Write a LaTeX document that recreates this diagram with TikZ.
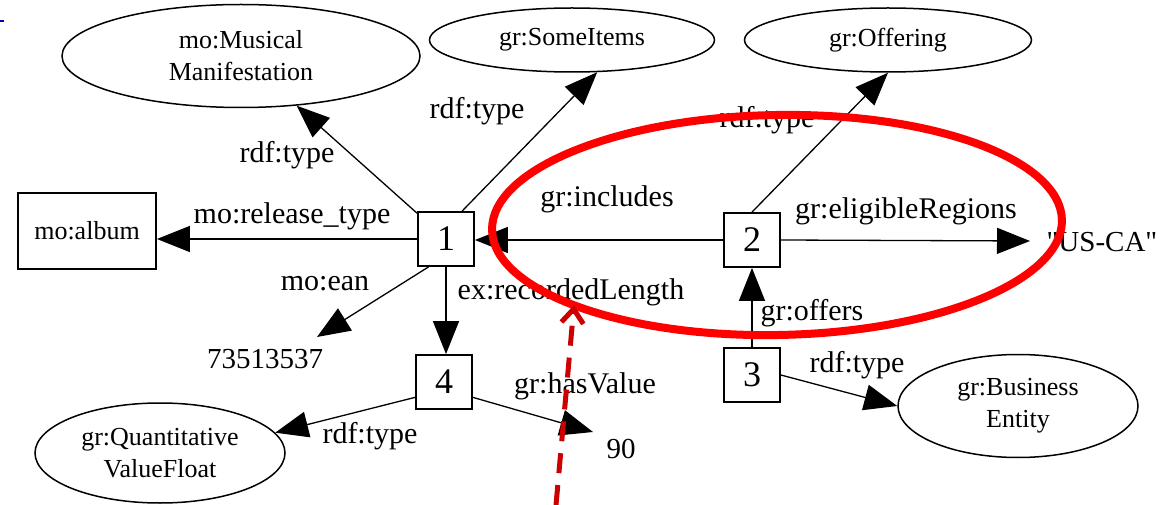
\documentclass[tikz,border=0pt]{standalone}
\usepackage{fontspec}
\setmainfont{Liberation Serif}
\newfontfamily\rawserif{Liberation Serif}[Ligatures=TeXOff]
\usetikzlibrary{shapes.geometric,arrows.meta,calc}
\tikzset{
  lbl/.style={font=\fontsize{30}{32}\selectfont, inner sep=0pt, anchor=base},
  lit/.style={font=\fontsize{29}{30}\selectfont, inner sep=0pt, anchor=base},
  ent/.style={draw, ellipse, line width=1.5pt, font=\fontsize{26}{32}\selectfont, align=center, inner sep=0pt},
  res/.style={draw, rectangle, line width=1.8pt, minimum width=56pt, minimum height=54pt, font=\fontsize{36}{36}\selectfont, inner sep=0pt},
  edge/.style={line width=1.3pt, -{Triangle[length=33pt,width=26pt]}},
  hilite/.style={draw=red, line width=8pt},
  pointer/.style={draw={rgb,255:red,204;green,0;blue,0}, line width=5pt, dash pattern=on 20pt off 12pt, -{Straight Barb[length=14pt,width=22pt]}},
}
\begin{document}
\begin{tikzpicture}[x=1pt,y=1pt]
\useasboundingbox (0,0) rectangle (1163,-505);
\draw[blue!70!black, line width=2pt] (0,-21) -- (4,-21);
% resource nodes
\node[res] (n1) at (446,-239) {1};
\node[res] (n2) at (752,-240) {2};
\node[res] (n3) at (752,-375) {3};
\node[res] (n4) at (444,-382) {4};
% class nodes
\node[ent, minimum width=358pt, minimum height=103pt] (mm) at (241,-56) {mo:Musical\\Manifestation};
\node[ent, minimum width=285pt, minimum height=64pt] (si) at (572,-40) {gr:SomeItems};
\node[ent, minimum width=287pt, minimum height=64pt] (of) at (888,-40) {gr:Offering};
\node[ent, minimum width=250pt, minimum height=100pt] (qv) at (160,-453) {gr:Quantitative\\ValueFloat};
\node[ent, minimum width=240pt, minimum height=103pt] (be) at (1018,-406) {gr:Business\\Entity};
\node[draw, rectangle, line width=1.8pt, minimum width=138pt, minimum height=76pt, font=\fontsize{26}{30}\selectfont, inner sep=0pt] (al) at (87,-231) {mo:album};
% literals
\node[lit] (ean) at (265,-368) {73513537};
\node[lit] (v90) at (621,-458) {90};
\node[lit, font=\rawserif\fontsize{29}{30}\selectfont] (us) at (1102,-252) {"US-CA"};
\coordinate (eantip) at (317,-337);
\coordinate (t90) at (593,-432);
\coordinate (ustip) at (1030,-241);
% edges
\draw[edge] (n1) -- (mm);
\draw[edge] (n1.60) -- (si.-52);
\draw[edge] (n2.north) -- (of.south);
\draw[edge] (n1.west) -- (n1.west -| al.east);
\draw[edge] (n1.238) -- (eantip);
\draw[edge] (n1.south) -- (n1.south |- n4.north);
\draw[edge] (n2.west) -- (n2.west -| n1.east);
\draw[edge] (n2.east) -- (ustip);
\draw[edge] (n3.north) -- (n2.south);
\draw[edge] (n3.east) -- (be.west);
\draw[edge] (n4.208) -- (qv.10);
\draw[edge] (n4.-28) -- (t90);
% edge labels
\node[lbl] at (287,-163) {rdf:type};
\node[lbl] at (477,-119) {rdf:type};
\node[lbl] at (767,-128) {rdf:type};
\node[lbl] at (292,-224) {mo:release\_type};
\node[lbl] at (325,-291) {mo:ean};
\node[lbl] at (607,-207) {gr:includes};
\node[lbl] at (571,-300) {ex:recordedLength};
\node[lbl] at (906,-219) {gr:eligibleRegions};
\node[lbl] at (812,-321) {gr:offers};
\node[lbl] at (370,-443) {rdf:type};
\node[lbl] at (585,-393) {gr:hasValue};
\node[lbl] at (857,-373) {rdf:type};
% highlight
\draw[hilite, rotate around={1:(777,-225)}] (777,-225) ellipse [x radius=285, y radius=110];
\coordinate (pstart) at (556,-505);
\coordinate (pend) at (574,-305);
\draw[pointer] (pstart) -- (pend);
\end{tikzpicture}
\end{document}
